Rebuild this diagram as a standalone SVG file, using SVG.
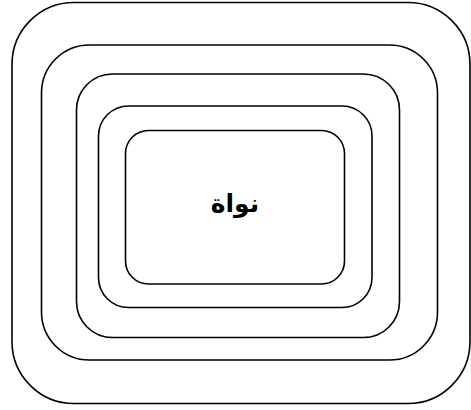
<svg xmlns="http://www.w3.org/2000/svg" width="471" height="410" viewBox="0 0 471 410">
<style>
.ring{fill:none;stroke:#000;stroke-width:1.6}
.lbl{font-family:"DejaVu Sans","Noto Sans",sans-serif;font-weight:bold;font-size:25px;fill:#000;text-anchor:middle}
</style>
<rect width="471" height="410" fill="#fff"/>
<g id="ring1"><rect class="ring" x="12" y="2.5" width="458" height="401" rx="62" ry="62"/></g>
<g id="ring2"><rect class="ring" x="41.5" y="45" width="396" height="315" rx="48" ry="48"/></g>
<g id="ring3"><rect class="ring" x="76.5" y="74" width="323" height="263.5" rx="36" ry="36"/></g>
<g id="ring4"><rect class="ring" x="98.5" y="106" width="273.5" height="201.5" rx="30" ry="30"/></g>
<g id="core"><rect class="ring" x="125.5" y="130.5" width="219" height="153.5" rx="23" ry="23"/>
<text class="lbl" x="235" y="212">نواة</text></g>
</svg>
